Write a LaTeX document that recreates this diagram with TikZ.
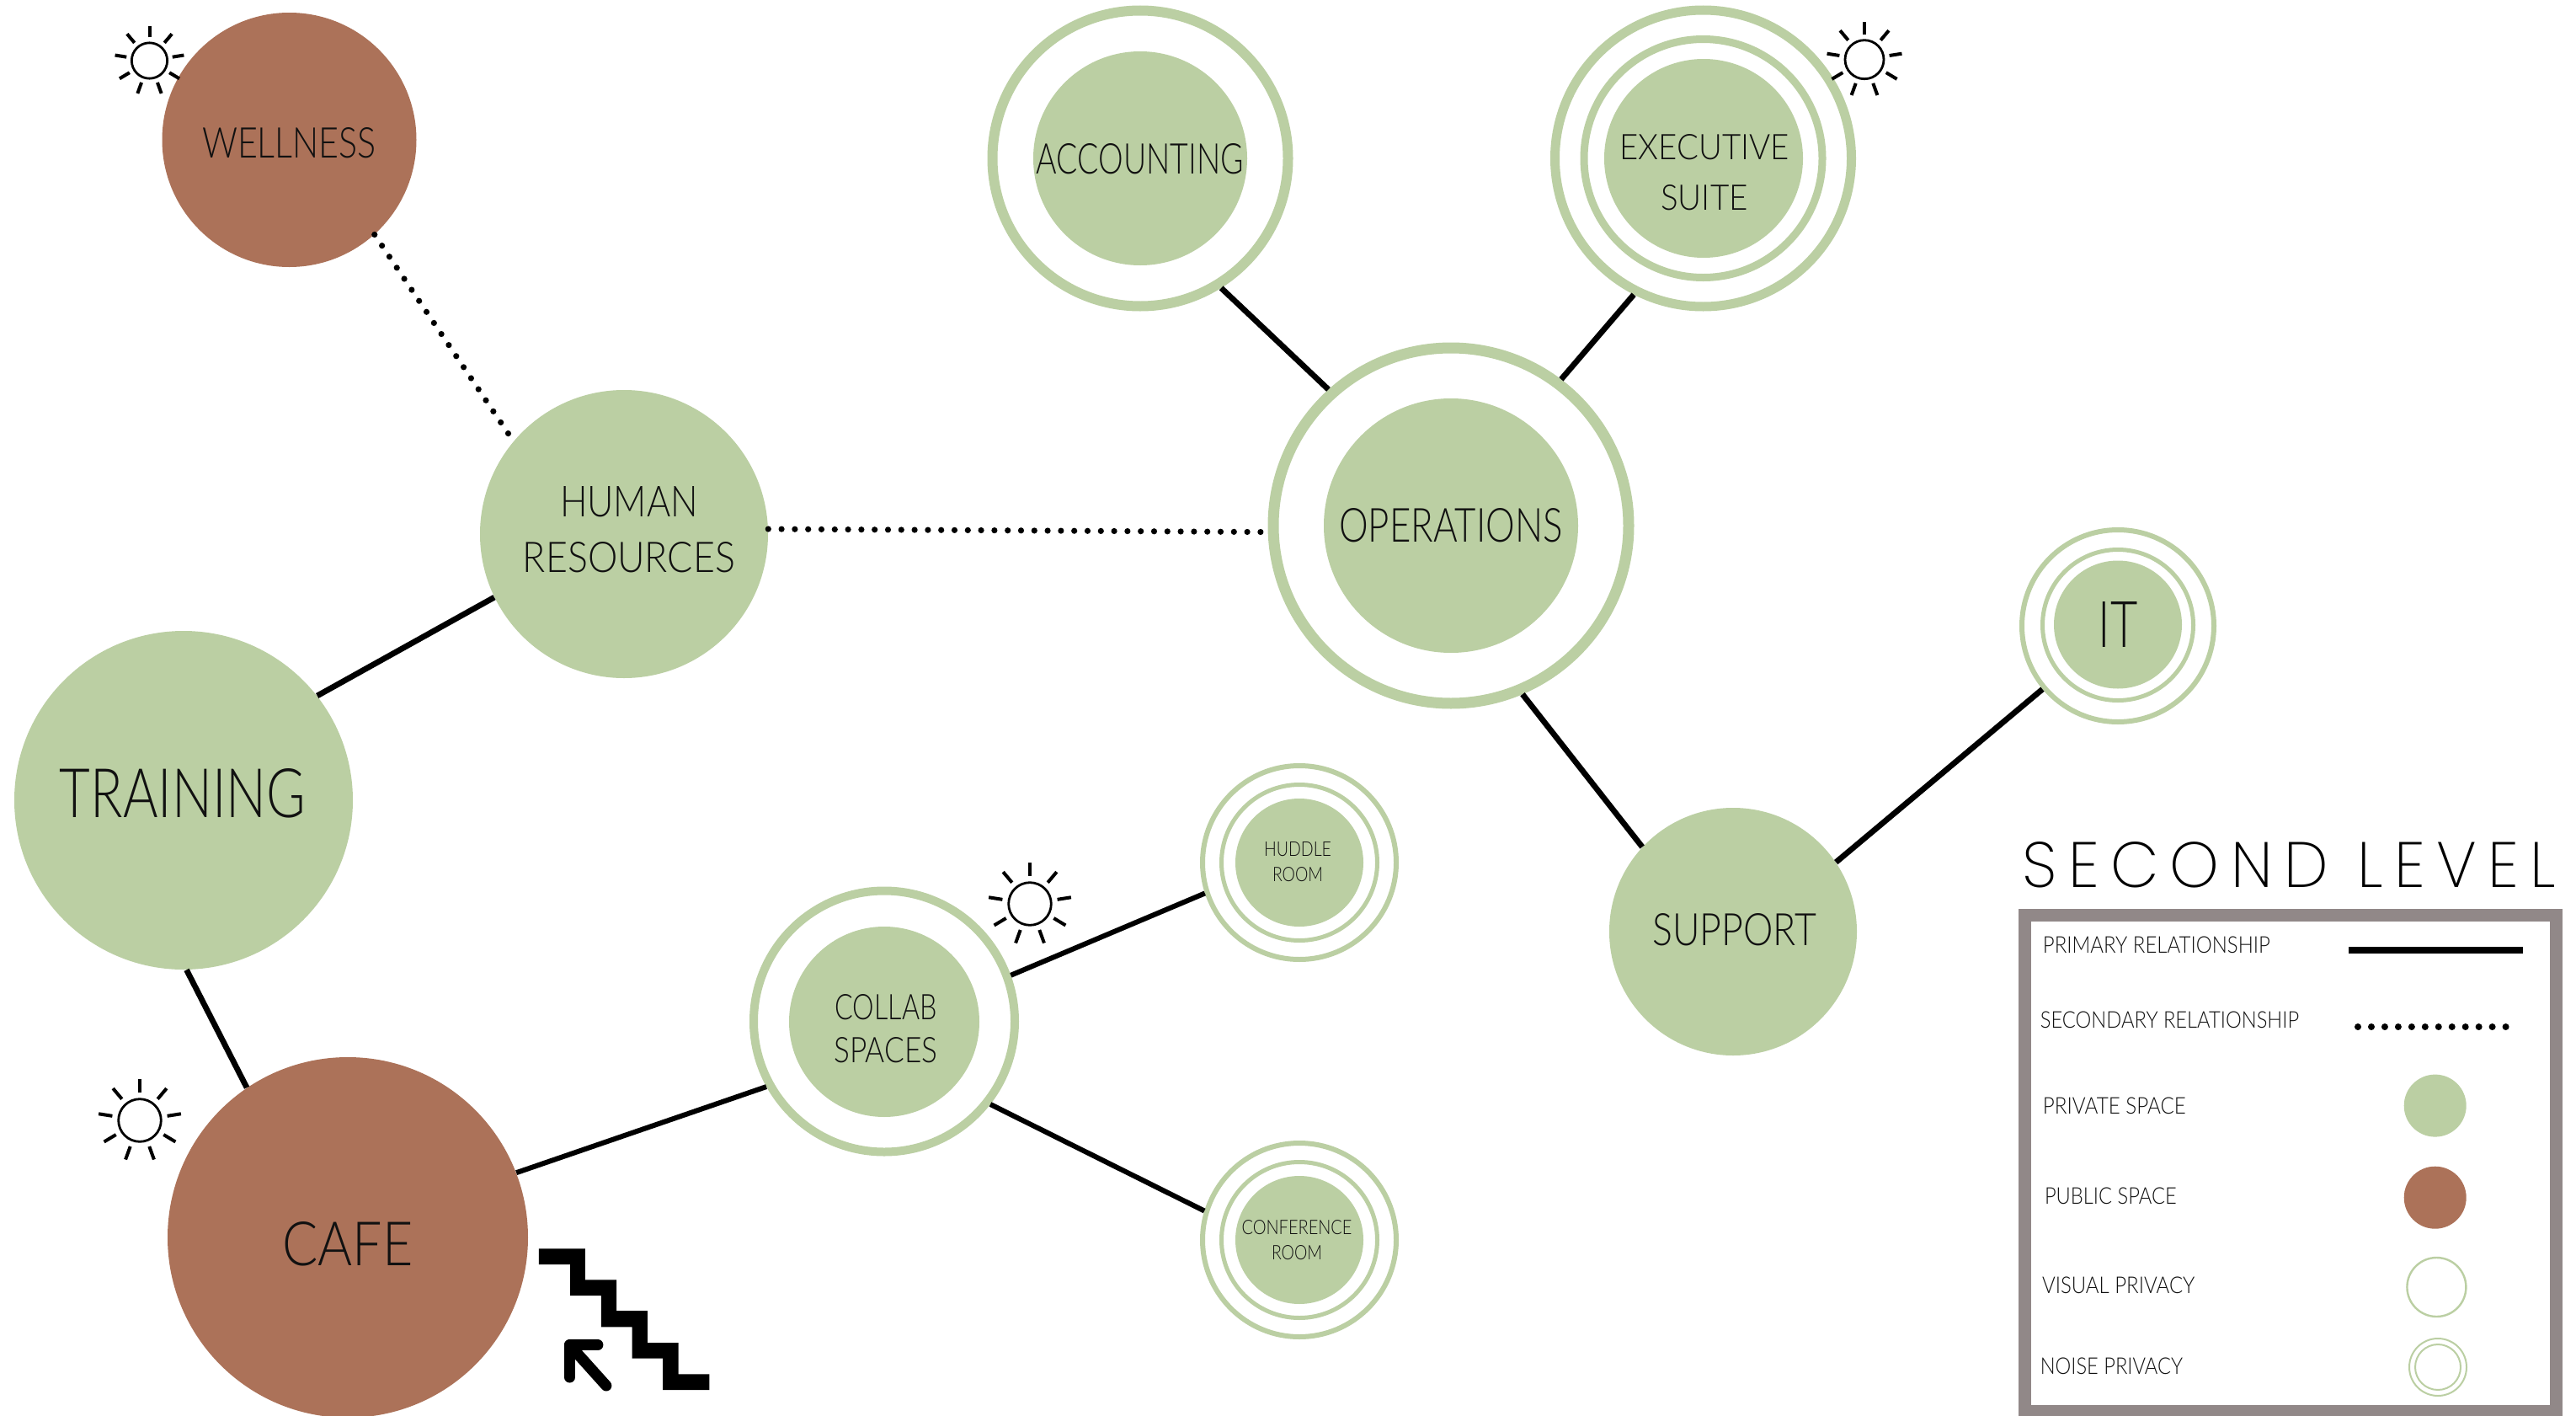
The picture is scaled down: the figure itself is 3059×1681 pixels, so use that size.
\documentclass[tikz,border=0pt]{standalone}
\usepackage{fontspec}
\usepackage{graphicx}
\setmainfont{Lato Light}
\newfontfamily\titlefont[LetterSpace=18]{Poppins ExtraLight}
\definecolor{privgreen}{HTML}{BBCFA3}
\definecolor{pubbrown}{HTML}{AC7259}
\definecolor{framegrey}{HTML}{918888}
\definecolor{inkblack}{HTML}{111111}
\newcommand\fitline[3]{\resizebox{#1pt}{#2pt}{#3}}
\tikzset{
  privnode/.style={circle,fill=privgreen,inner sep=0pt,minimum size=#1},
  pubnode/.style={circle,fill=pubbrown,inner sep=0pt,minimum size=#1},
  ringnode/.style={circle,draw=privgreen,fill=white,inner sep=0pt},
  lbl/.style={inner sep=0pt,text=inkblack,align=center},
  leglbl/.style={inner sep=0pt,text=inkblack,anchor=west},
  mainlink/.style={black,line width=3.4pt},
  dotlink/.style={black,line width=3.6pt,line cap=round,dash pattern=on 0pt off 7.9pt},
  sunline/.style={black,line width=1.4pt},
  sunicon/.pic={
    \begin{scope}[x=0.5pt,y=0.5pt]
      \draw[sunline] (0,0) circle (23);
      \foreach \a in {90,50,9,-31,-70,250,211,171,130}
        \draw[black,line width=2pt] (\a:30) -- (\a:45);
    \end{scope}
  }
}
\begin{document}
\begin{tikzpicture}[x=0.5pt,y=-0.5pt]
\useasboundingbox (0,0) rectangle (3059,1681);
\fill[white] (0,0) rectangle (3059,1681);

% plain spaces
\node[pubnode=151pt] (well) at (343.5,166) {};
\node[privnode=171pt] (hr) at (741,634) {};
\node[privnode=201pt] (train) at (218,950) {};
\node[pubnode=214pt] (cafe) at (413,1469) {};
\node[privnode=147pt] (supp) at (2058,1106) {};

% ringed spaces
\node[ringnode,line width=6.5pt,minimum size=211pt] (ops) at (1723,624) {};
\node[privnode=151pt] (opsc) at (1723,624) {};
\node[ringnode,line width=6pt,minimum size=175.5pt] (acct) at (1354,188) {};
\node[privnode=127pt] (acctc) at (1354,188) {};
\node[ringnode,line width=5.5pt,minimum size=176pt] (exec) at (2022.5,188) {};
\node[ringnode,line width=4.5pt,minimum size=141.5pt] (execm) at (2022.5,188) {};
\node[privnode=118pt] (execc) at (2023,188) {};
\node[ringnode,line width=3pt,minimum size=114pt] (it) at (2515,743) {};
\node[ringnode,line width=2.5pt,minimum size=89.5pt] (itm) at (2515,742) {};
\node[privnode=76pt] (itc) at (2515,741.5) {};
\node[ringnode,line width=5pt,minimum size=155pt] (collab) at (1050,1212.5) {};
\node[privnode=113pt] (collabc) at (1050,1213) {};
\node[ringnode,line width=3pt,minimum size=115pt] (huddle) at (1543,1024) {};
\node[ringnode,line width=2.5pt,minimum size=92.5pt] (huddlem) at (1543,1024) {};
\node[privnode=76pt] (huddlec) at (1543,1024) {};
\node[ringnode,line width=3pt,minimum size=115pt] (conf) at (1543,1472) {};
\node[ringnode,line width=2.5pt,minimum size=92.5pt] (confm) at (1543,1472) {};
\node[privnode=76pt] (confc) at (1543,1472) {};

% connectors
\draw[dotlink] (well.-48) -- (hr.140);
\draw[dotlink] (hr.2) -- (ops.182.6);
\draw[mainlink] (train.38.7) -- (hr.206.3);
\draw[mainlink] (train.-89.5) -- (cafe.124);
\draw[mainlink,line width=3pt] (cafe.21.4) -- (collab.209);
\draw[mainlink,line width=3pt] (collab.20) -- (huddle.198.7);
\draw[mainlink,line width=3pt] (collab.-38) -- (conf.163);
\draw[mainlink] (acct.-58.8) -- (ops.132.5);
\draw[mainlink] (exec.243.7) -- (ops.53);
\draw[mainlink] (ops.-67.9) -- (supp.137);
\draw[mainlink] (supp.34) -- (it.220);

% labels
\node[lbl] (lwell) at (343.5,170) {\fitline{103.4}{18}{WELLNESS}};
\node[lbl,font=\fontsize{20}{33}\selectfont] (lhr) at (747,629) {\fitline{82}{18}{HUMAN}\\\fitline{126}{18}{RESOURCES}};
\node[lbl] (ltrain) at (217,942) {\fitline{146}{29}{TRAINING}};
\node[lbl] (lcafe) at (413,1477) {\fitline{77.5}{26}{CAFE}};
\node[lbl] (lops) at (1723,624) {\fitline{132.7}{20}{OPERATIONS}};
\node[lbl] (lacct) at (1354,189) {\fitline{123}{18}{ACCOUNTING}};
\node[lbl,font=\fontsize{20}{30}\selectfont] (lexec) at (2024,205) {\fitline{100.5}{15}{EXECUTIVE}\\\fitline{51.7}{15}{SUITE}};
\node[lbl] (lit) at (2515,741) {\fitline{23.4}{27}{IT}};
\node[lbl] (lsupp) at (2060,1104) {\fitline{97.5}{19}{SUPPORT}};
\node[lbl,font=\fontsize{20}{25.4}\selectfont] (lcollab) at (1052,1221) {\fitline{60.5}{15}{COLLAB}\\\fitline{61.5}{15}{SPACES}};
\node[lbl,font=\fontsize{20}{14.6}\selectfont] (lhuddle) at (1541,1023) {\fitline{40}{8.5}{HUDDLE}\\\fitline{30}{8.5}{ROOM}};
\node[lbl,font=\fontsize{20}{14.6}\selectfont] (lconf) at (1540,1472) {\fitline{65.5}{8.5}{CONFERENCE}\\\fitline{30}{8.5}{ROOM}};

% suns
\pic[scale=0.92] at (177.5,72) {sunicon};
\pic at (2214,70.7) {sunicon};
\pic[scale=1.1] at (1223,1073) {sunicon};
\pic[scale=1.1] at (166,1330) {sunicon};

% stairs and arrow
\fill[black] (639.8,1482.3) -- (694.9,1482.3) -- (694.9,1519.3) -- (732.1,1519.3) -- (732.1,1556) -- (768.9,1556) -- (768.9,1594) -- (805.6,1594) -- (805.6,1631.3) -- (842.3,1631.3) -- (842.3,1650) -- (787.2,1650) -- (787.2,1612.7) -- (750.5,1612.7) -- (750.5,1575.3) -- (713.8,1575.3) -- (713.8,1538) -- (677,1538) -- (677,1501) -- (639.8,1501) -- cycle;
\draw[black,line width=6.5pt,line cap=round,line join=round] (719.9,1645) -- (676.5,1596.7);
\draw[black,line width=6.5pt,line cap=round,line join=round] (676.5,1635) -- (676.5,1596.7) -- (709.9,1596.7);

% legend
\node[inner sep=0pt,anchor=west] (title) at (2401,1027) {\fitline{316.7}{27}{\titlefont SECOND LEVEL}};
\node[rectangle,draw=framegrey,line width=7.5pt,inner sep=0pt,minimum width=315.5pt,minimum height=294.25pt] (legendbox) at (2719.5,1380.75) {};
\node[leglbl] (lgprim) at (2425.5,1122) {\fitline{135}{9.8}{PRIMARY RELATIONSHIP}};
\node[leglbl] (lgsec) at (2422.4,1211) {\fitline{153.7}{9.8}{SECONDARY RELATIONSHIP}};
\node[leglbl] (lgpriv) at (2425.5,1313) {\fitline{85}{9.8}{PRIVATE SPACE}};
\node[leglbl] (lgpub) at (2427.6,1420) {\fitline{78.4}{9.8}{PUBLIC SPACE}};
\node[leglbl] (lgvis) at (2424.6,1526) {\fitline{90.7}{9.8}{VISUAL PRIVACY}};
\node[leglbl] (lgnoise) at (2422.4,1621.5) {\fitline{84.6}{9.8}{NOISE PRIVACY}};
\coordinate (lgprimA) at (2789,1127.5);
\coordinate (lgprimB) at (2995.6,1127.5);
\draw[black,line width=4pt] (lgprimA) -- (lgprimB);
\coordinate (lgsecA) at (2800,1219);
\coordinate (lgsecB) at (2991.5,1219);
\draw[black,line width=4pt,line cap=round,dash pattern=on 0pt off 7.98pt] (lgsecA) -- (lgsecB);
\node[privnode=37pt] (lgc1) at (2891.7,1312.6) {};
\node[pubnode=37pt] (lgc2) at (2891.7,1421.7) {};
\node[circle,draw=privgreen,line width=1.2pt,inner sep=0pt,minimum size=35pt] (lgc3) at (2893.4,1528) {};
\node[circle,draw=privgreen,line width=1pt,inner sep=0pt,minimum size=34pt] (lgc4) at (2895,1623) {};
\node[circle,draw=privgreen,line width=1pt,inner sep=0pt,minimum size=27pt] (lgc5) at (2895,1623) {};
\end{tikzpicture}
\end{document}
